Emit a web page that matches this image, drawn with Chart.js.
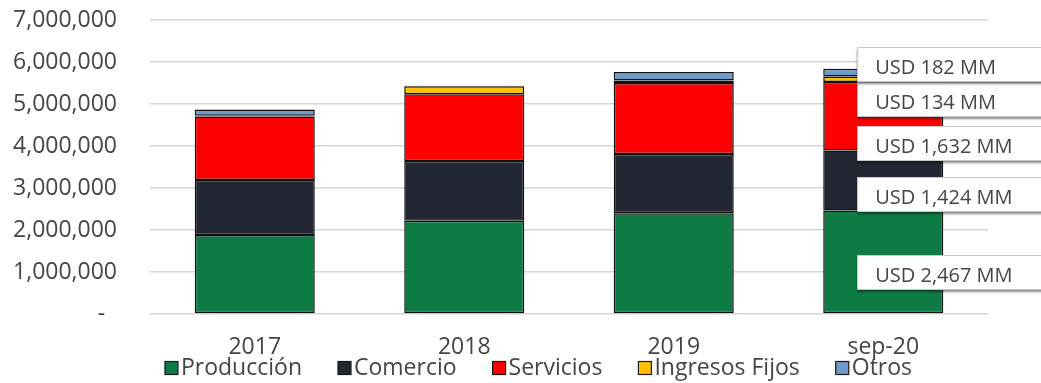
<!DOCTYPE html>
<html>
<head>
<meta charset="utf-8">
<script src="https://cdn.jsdelivr.net/npm/chart.js@4.4.1/dist/chart.umd.min.js"></script>
<style>
  html, body { margin: 0; padding: 0; background: #ffffff; }
  canvas { display: block; }
</style>
</head>
<body>
<canvas id="c" width="1041" height="383"></canvas>
<script>
// Ingresos por sector (miles de USD)
const categories    = ['2017', '2018', '2019', 'sep-20'];
const produccion    = [1880000, 2220000, 2400000, 2467000];
const comercio      = [1310000, 1420000, 1410000, 1424000];
const servicios     = [1510000, 1590000, 1690000, 1632000];
const ingresosFijos = [20000, 190000, 60000, 134000];
const otros         = [150000, 15000, 200000, 182000];
const seriesNames   = ['Producción', 'Comercio', 'Servicios', 'Ingresos Fijos', 'Otros'];
const yMax = 7000000;
const yStep = 1000000;

const seriesValues = [produccion, comercio, servicios, ingresosFijos, otros];
const seriesColors = ['#0e7b45', '#222733', '#ff0000', '#ffc000', '#6f9bc9'];

const FONT = "'Open Sans', 'Noto Sans', sans-serif";
const TEXT = '#454545';

// Callout placement (y in axis units) for the last period's breakdown
const calloutLevels = [905000, 2762000, 3976000, 5024000, 5857000];

const calloutPlugin = {
  id: 'callouts',
  afterDatasetsDraw(chart) {
    const ctx = chart.ctx;
    const y = chart.scales.y;
    const last = categories.length - 1;
    ctx.save();
    ctx.font = "20px " + FONT;
    seriesValues.forEach((vals, i) => {
      const bar = chart.getDatasetMeta(i).data[last];
      const left = bar.x - bar.width / 2 + 34;
      const cy = y.getPixelForValue(calloutLevels[i]);
      const top = cy - 21, h = 34, w = 260;
      ctx.save();
      ctx.shadowColor = 'rgba(0,0,0,0.45)';
      ctx.shadowOffsetY = 3;
      ctx.shadowBlur = 2;
      ctx.fillStyle = '#ffffff';
      ctx.fillRect(left, top, w, h);
      ctx.restore();
      ctx.strokeStyle = '#c8c8c8';
      ctx.lineWidth = 1;
      ctx.strokeRect(left + 0.5, top + 0.5, w, h);
      const label = 'USD ' + Math.round(vals[last] / 1000).toLocaleString('en-US') + ' MM';
      ctx.fillStyle = TEXT;
      ctx.textBaseline = 'middle';
      ctx.textAlign = 'left';
      ctx.fillText(label, left + 18, cy);
    });
    ctx.restore();
  }
};

const legendPlugin = {
  id: 'bottomLegend',
  afterDraw(chart) {
    const ctx = chart.ctx;
    ctx.save();
    ctx.font = "23px " + FONT;
    const box = 13, boxGap = 3, itemGap = 36;
    const widths = seriesNames.map(n => ctx.measureText(n).width);
    const total = widths.reduce((a, b) => a + b, 0) + seriesNames.length * (box + boxGap) + itemGap * (seriesNames.length - 1);
    let x = 538.5 - total / 2;
    const cy = 368;
    seriesNames.forEach((name, i) => {
      ctx.fillStyle = seriesColors[i];
      ctx.fillRect(x, cy - box / 2, box, box);
      ctx.strokeStyle = '#1a1a1a';
      ctx.lineWidth = 1.2;
      ctx.strokeRect(x, cy - box / 2, box, box);
      x += box + boxGap;
      ctx.fillStyle = TEXT;
      ctx.textBaseline = 'middle';
      ctx.textAlign = 'left';
      ctx.fillText(name, x, cy);
      x += widths[i] + itemGap;
    });
    ctx.restore();
  }
};

new Chart(document.getElementById('c'), {
  type: 'bar',
  data: {
    labels: categories,
    datasets: seriesNames.map((name, i) => ({
      label: name,
      data: seriesValues[i],
      backgroundColor: seriesColors[i],
      borderColor: '#111111',
      borderWidth: 1.5,
      borderSkipped: false,
      barPercentage: 0.573,
      categoryPercentage: 1.0
    }))
  },
  options: {
    responsive: false,
    animation: false,
    layout: { padding: { left: 0, right: 53, top: 20, bottom: 0 } },
    plugins: {
      legend: { display: false },
      tooltip: { enabled: false }
    },
    scales: {
      x: {
        stacked: true,
        grid: { display: false, drawTicks: false },
        border: { display: false },
        ticks: { color: TEXT, font: { family: FONT, size: 23 }, padding: 20, maxRotation: 0 },
        afterFit(scale) { scale.height = 69; }
      },
      y: {
        stacked: true,
        min: 0,
        max: yMax,
        ticks: {
          stepSize: yStep,
          color: TEXT,
          font: { family: FONT, size: 23 },
          padding: 0,
          callback: v => v === 0 ? '-  ' : Number(v).toLocaleString('en-US')
        },
        grid: { color: '#d6d6d6', lineWidth: 1.5, drawTicks: true, tickLength: 33, tickColor: 'rgba(0,0,0,0)' },
        border: { display: false },
        afterFit(scale) { scale.width = 150; }
      }
    }
  },
  plugins: [calloutPlugin, legendPlugin]
});
</script>
</body>
</html>
